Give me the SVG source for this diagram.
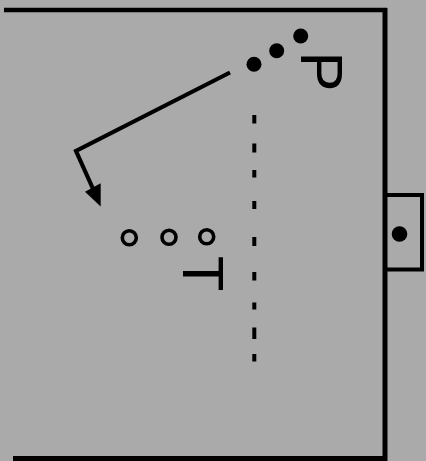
<svg xmlns="http://www.w3.org/2000/svg" width="426" height="461" viewBox="0 0 426 461">
  <style>
    .ln { stroke: #000; fill: none; stroke-linecap: butt; }
    .dot { fill: #000; }
    .ring { fill: none; stroke: #000; stroke-width: 3.6; }
    .lbl { font-family: "Liberation Sans", Arial, sans-serif; fill: #000; }
  </style>
  <rect width="426" height="461" fill="#aaaaaa"/>
  <g id="border">
    <line class="ln" x1="4" y1="10" x2="387" y2="10" stroke-width="4.5"/>
    <line class="ln" x1="385" y1="8" x2="385" y2="461" stroke-width="5"/>
    <line class="ln" x1="13" y1="458.5" x2="387" y2="458.5" stroke-width="5"/>
  </g>
  <g id="box">
    <rect x="385" y="195" width="37" height="74.5" fill="none" stroke="#000" stroke-width="4"/>
    <circle class="dot" cx="399.5" cy="234" r="7.8"/>
  </g>
  <g id="player-dots">
    <circle class="dot" cx="300.7" cy="36" r="7.5"/>
    <circle class="dot" cx="276.7" cy="50.7" r="7.5"/>
    <circle class="dot" cx="254" cy="64.3" r="7.5"/>
  </g>
  <g id="label-p">
    <text class="lbl" font-size="60" transform="translate(300.7,51.6) rotate(90)">P</text>
  </g>
  <g id="rings">
    <circle class="ring" cx="129.3" cy="237.7" r="7"/>
    <circle class="ring" cx="169" cy="237.3" r="7"/>
    <circle class="ring" cx="206.7" cy="236.7" r="7"/>
  </g>
  <g id="label-t">
    <text class="lbl" font-size="58" text-anchor="middle" transform="translate(183.3,273.6) rotate(90)">T</text>
  </g>
  <g id="connectors">
    <path class="ln" d="M230,72.5 L76,151 L94,191" stroke-width="4.2" stroke-linejoin="miter"/>
    <polygon points="85,191.7 100.7,183.3 100.7,206.5" fill="#000"/>
    <g class="ln" stroke-width="4" stroke-linecap="round">
      <line x1="254.3" y1="115" x2="254.3" y2="123.5"/>
      <line x1="254.3" y1="143.5" x2="254.3" y2="152.5"/>
      <line x1="254.3" y1="170" x2="254.3" y2="177.5"/>
      <line x1="254.3" y1="201" x2="254.3" y2="209"/>
      <line x1="254.3" y1="237" x2="254.3" y2="246"/>
      <line x1="254.3" y1="272" x2="254.3" y2="280.5"/>
      <line x1="254.3" y1="302.5" x2="254.3" y2="309.5"/>
      <line x1="254.3" y1="327.5" x2="254.3" y2="339"/>
      <line x1="254.3" y1="354" x2="254.3" y2="361.5"/>
    </g>
  </g>
</svg>
